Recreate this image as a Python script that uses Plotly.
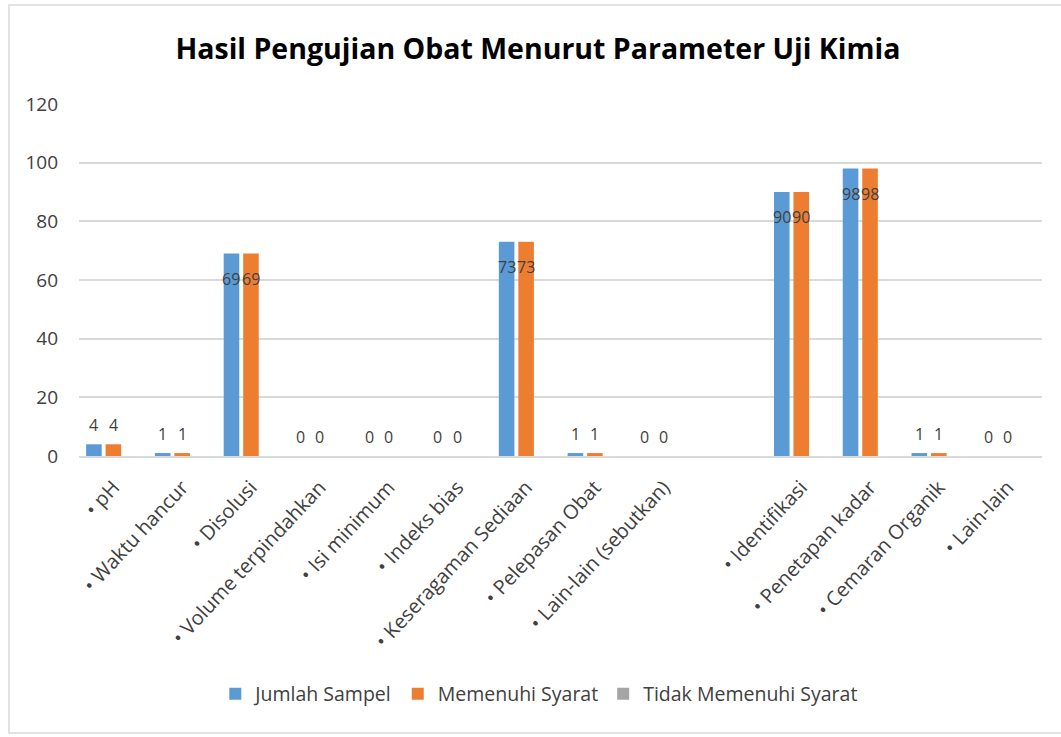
import plotly.graph_objects as go

categories = ["• pH", "• Waktu hancur", "• Disolusi", "• Volume terpindahkan", "• Isi minimum",
              "• Indeks bias", "• Keseragaman Sediaan", "• Pelepasan Obat", "• Lain-lain (sebutkan)",
              " ", "• Identifikasi", "• Penetapan kadar", "• Cemaran Organik", "• Lain-lain"]
jumlah_sampel = [4, 1, 69, 0, 0, 0, 73, 1, 0, None, 90, 98, 1, 0]
memenuhi_syarat = [4, 1, 69, 0, 0, 0, 73, 1, 0, None, 90, 98, 1, 0]
tidak_memenuhi = [0, 0, 0, 0, 0, 0, 0, 0, 0, None, 0, 0, 0, 0]
series_names = ["Jumlah Sampel", "Memenuhi Syarat", "Tidak Memenuhi Syarat"]
y_ticks = [0, 20, 40, 60, 80, 100, 120]

colors = ["#5B9BD5", "#ED7D31", "#A5A5A5"]
BARGAP = 0.15
GROUPGAP = 0.2
FONT = "Open Sans"

fig = go.Figure()
all_series = [jumlah_sampel, memenuhi_syarat, tidak_memenuhi]
for name, vals, col in zip(series_names, all_series, colors):
    fig.add_trace(go.Bar(
        x=categories, y=vals, name=name,
        marker=dict(color=col, line=dict(width=0)),
    ))

# data labels for first two series
n = len(all_series)
slot = (1 - BARGAP) / n
annotations = []
for si, vals in enumerate(all_series[:2]):
    off = -(1 - BARGAP) / 2 + slot * (si + 0.5)
    for ci, v in enumerate(vals):
        if v is None:
            continue
        annotations.append(dict(
            x=ci + off, y=v, xref="x", yref="y", text=str(v), showarrow=False,
            yanchor="middle", xanchor="center",
            yshift=(-25 if v >= 10 else 19),
            font=dict(family=FONT, size=16, color="#404040"),
        ))

fig.update_layout(
    width=1061, height=737,
    margin=dict(l=79, r=19, t=104, b=281),
    paper_bgcolor="white", plot_bgcolor="white",
    barmode="group", bargap=BARGAP, bargroupgap=GROUPGAP,
    title=dict(text="<b>Hasil Pengujian Obat Menurut Parameter Uji Kimia</b>",
               x=0.507, xanchor="center", y=0.933, yanchor="middle",
               font=dict(family=FONT, size=28.5, color="#000000")),
    showlegend=True,
    legend=dict(orientation="h", x=0.478, xanchor="center", y=-0.676, yanchor="middle",
                font=dict(family=FONT, size=19.5, color="#404040"),
                itemwidth=30, traceorder="normal"),
    annotations=annotations,
    shapes=[dict(type="rect", xref="paper", yref="paper",
                 x0=(9 - 79) / 963, x1=(1075 - 79) / 963,
                 y0=(456 - 733) / 352, y1=(456 - 5) / 352,
                 line=dict(color="#D9D9D9", width=1.5), fillcolor="rgba(0,0,0,0)", layer="below")],
)
fig.update_xaxes(
    type="category", tickangle=-47, showgrid=False, ticks="",
    showline=True, linecolor="#D9D9D9", linewidth=1.5, ticklabelstandoff=10,
    tickfont=dict(family=FONT, size=20, color="#404040"),
)
fig.update_yaxes(
    range=[0, 120], tickvals=y_ticks, showgrid=True, gridcolor="#D9D9D9", gridwidth=1.5,
    zeroline=False, showline=False, ticks="", ticklabelstandoff=20,
    tickfont=dict(family=FONT, size=19, color="#404040"),
)

fig.write_html("out.html", config={"displayModeBar": False},
               post_script="document.body.style.margin='0';document.body.style.overflow='hidden';")
